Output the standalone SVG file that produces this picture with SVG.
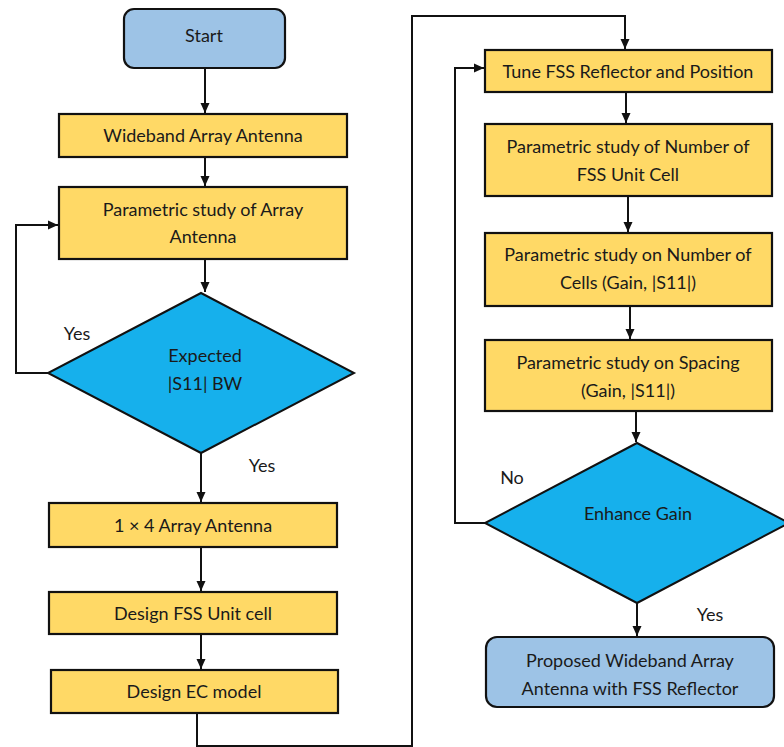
<svg xmlns="http://www.w3.org/2000/svg" width="784" height="747" viewBox="0 0 784 747">
<style>
.box{fill:#FFD966;stroke:#111;stroke-width:2.2}
.term{fill:#9DC3E6;stroke:#111;stroke-width:2.2}
.dec{fill:#16B0EC;stroke:#111;stroke-width:2}
.t{font-family:Lato,"Open Sans","Liberation Sans",sans-serif;font-size:18px;fill:#1a1a1a;text-anchor:middle;dominant-baseline:central}
.c{fill:none;stroke:#111;stroke-width:2;marker-end:url(#ah)}
</style>
<defs>
<marker id="ah" viewBox="0 0 10 10" refX="10" refY="5" markerWidth="10" markerHeight="10" markerUnits="userSpaceOnUse" orient="auto">
<path d="M0,0.5 L10,5 L0,9.5 z" fill="#111"/>
</marker>
</defs>
<rect width="784" height="747" fill="#fff"/>
<g id="connectors">
<path class="c" d="M205,68 V113"/>
<path class="c" d="M205,157 V186"/>
<path class="c" d="M205,259 V292"/>
<path class="c" d="M48,373 H16 V225 H58"/>
<path class="c" d="M201,453 V502"/>
<path class="c" d="M201,547 V591"/>
<path class="c" d="M201,634 V669"/>
<path class="c" d="M197,713 V746 H412 V16 H625 V49"/>
<path class="c" d="M626,92 V123"/>
<path class="c" d="M628,196 V232"/>
<path class="c" d="M630,306 V339"/>
<path class="c" d="M636,411 V442"/>
<path class="c" d="M486,523 H455 V68 H484"/>
<path class="c" d="M637,603 V636"/>
</g>
<g id="start"><rect class="term" x="124" y="9" width="161" height="59" rx="10"/><text class="t" x="204" y="35">Start</text></g>
<g id="wideband"><rect class="box" x="59" y="114" width="288" height="43"/><text class="t" x="203" y="135">Wideband Array Antenna</text></g>
<g id="param-array"><rect class="box" x="59" y="187" width="288" height="72"/><text class="t" x="203" y="209">Parametric study of Array</text><text class="t" x="203" y="236">Antenna</text></g>
<g id="expected"><polygon class="dec" points="201,293 354,373 201,453 48,373"/><text class="t" x="205" y="355">Expected</text><text class="t" x="205" y="383">|S11| BW</text></g>
<g id="lbl-yes1"><text class="t" x="77" y="333">Yes</text></g>
<g id="lbl-yes2"><text class="t" x="262" y="465">Yes</text></g>
<g id="array14"><rect class="box" x="49" y="503" width="288" height="44"/><text class="t" x="193" y="525">1 × 4 Array Antenna</text></g>
<g id="fss-unit"><rect class="box" x="49" y="592" width="288" height="42"/><text class="t" x="193" y="613">Design FSS Unit cell</text></g>
<g id="ec-model"><rect class="box" x="51" y="670" width="287" height="43"/><text class="t" x="194" y="691">Design EC model</text></g>
<g id="tune"><rect class="box" x="485" y="50" width="287" height="42"/><text class="t" x="628" y="71">Tune FSS Reflector and Position</text></g>
<g id="num-unit"><rect class="box" x="485" y="124" width="287" height="72"/><text class="t" x="628" y="146">Parametric study of Number of</text><text class="t" x="628" y="174">FSS Unit Cell</text></g>
<g id="num-cells"><rect class="box" x="485" y="233" width="287" height="73"/><text class="t" x="628" y="254">Parametric study on Number of</text><text class="t" x="628" y="282">Cells (Gain, |S11|)</text></g>
<g id="spacing"><rect class="box" x="485" y="340" width="287" height="71"/><text class="t" x="628" y="362">Parametric study on Spacing</text><text class="t" x="628" y="390">(Gain, |S11|)</text></g>
<g id="enhance"><polygon class="dec" points="637,443 789,523 637,603 485,523"/><text class="t" x="638" y="513">Enhance Gain</text></g>
<g id="lbl-no"><text class="t" x="512" y="477">No</text></g>
<g id="lbl-yes3"><text class="t" x="710" y="614">Yes</text></g>
<g id="proposed"><rect class="term" x="486" y="637" width="288" height="70" rx="11"/><text class="t" x="630" y="660">Proposed Wideband Array</text><text class="t" x="630" y="688">Antenna with FSS Reflector</text></g>
</svg>
